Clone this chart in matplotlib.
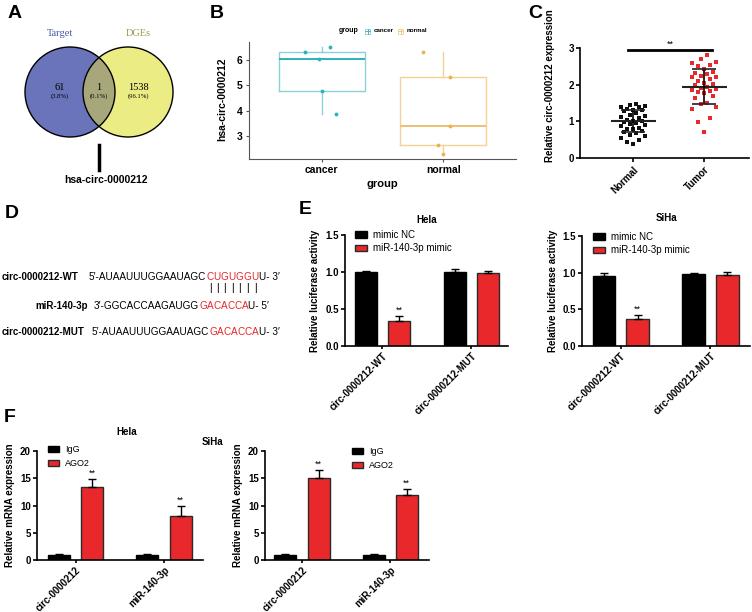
import matplotlib
matplotlib.use("Agg")
import matplotlib.pyplot as plot
from matplotlib.patches import Circle, Rectangle
import numpy

plot.rcParams['font.family'] = ['Liberation Sans', 'DejaVu Sans']
plot.rcParams['font.weight'] = 'bold'
plot.rcParams['axes.labelweight'] = 'bold'
plot.rcParams['axes.titleweight'] = 'bold'

# ---- data ----
venn_names = ["Target", "DGEs"]
venn_counts = ["61", "1", "1538"]
venn_percents = ["(3.8%)", "(0.1%)", "(96.1%)"]
venn_shared = "hsa-circ-0000212"

box_groups = ["cancer", "normal"]
cancer_values = [6.32, 6.52, 6.04, 4.78, 3.87]
normal_values = [6.32, 5.33, 3.41, 2.64, 2.29]

scatter_groups = ["Normal", "Tumor"]
normal_expr = [1.48, 1.45, 1.43, 1.40, 1.38, 1.35, 1.32, 1.30, 1.27, 1.22, 1.18, 1.15,
               1.12, 1.08, 1.05, 1.02, 1.00, 0.98, 0.95, 0.92, 0.90, 0.86, 0.83, 0.80,
               0.78, 0.75, 0.72, 0.68, 0.64, 0.60, 0.55, 0.48, 0.44, 0.38]
tumor_expr = [2.80, 2.70, 2.62, 2.58, 2.55, 2.52, 2.42, 2.35, 2.32, 2.28, 2.25, 2.22,
              2.20, 2.15, 2.10, 2.05, 2.02, 1.98, 1.95, 1.92, 1.88, 1.85, 1.83, 1.80,
              1.78, 1.70, 1.65, 1.50, 1.48, 1.40, 1.33, 1.08, 0.98, 0.72]
scatter_mean = [1.00, 1.95]
scatter_sd = [0.30, 0.48]

seq_labels = ["circ-0000212-WT", "miR-140-3p", "circ-0000212-MUT"]
seq_left = ["5\u2032-AUAAUUUGGAAUAGC", "3\u2032-GGCACCAAGAUGG", "5\u2032-AUAAUUUGGAAUAGC"]
seq_site = ["CUGUGGU", "GACACCA", "GACACCA"]
seq_right = ["U- 3\u2032", "U- 5\u2032", "U- 3\u2032"]

luc_groups = ["circ-0000212-WT", "circ-0000212-MUT"]
luc_series = ["mimic NC", "miR-140-3p mimic"]
hela_nc = [1.00, 1.00]
hela_nc_err = [0.02, 0.04]
hela_mimic = [0.34, 0.98]
hela_mimic_err = [0.07, 0.04]
siha_nc = [0.96, 0.98]
siha_nc_err = [0.04, 0.02]
siha_mimic = [0.37, 0.97]
siha_mimic_err = [0.05, 0.04]

rip_groups = ["circ-0000212", "miR-140-3p"]
rip_series = ["IgG", "AGO2"]
hela_igg = [1.0, 1.0]
hela_igg_err = [0.08, 0.08]
hela_ago2 = [13.4, 8.0]
hela_ago2_err = [1.5, 1.9]
siha_igg = [1.0, 1.0]
siha_igg_err = [0.08, 0.08]
siha_ago2 = [15.0, 11.9]
siha_ago2_err = [1.6, 1.1]

RED = '#E8282B'
W, H = 752, 612
fig = plot.figure(figsize=(W / 100, H / 100), dpi=100)


def px_axes(l, t, r, b):
    return fig.add_axes([l / W, 1 - b / H, (r - l) / W, (b - t) / H])


def prism_style(ax):
    for s in ['top', 'right']:
        ax.spines[s].set_visible(False)
    for s in ['left', 'bottom']:
        ax.spines[s].set_linewidth(1.2)
    ax.tick_params(width=1.2, length=3, labelsize=7, pad=1.5)


# overlay in pixel coordinates for free text
ov = fig.add_axes([0, 0, 1, 1], zorder=5)
ov.set_xlim(0, W)
ov.set_ylim(H, 0)
ov.axis('off')

for letter, x, y in [("A", 15, 14), ("B", 217, 13), ("C", 535, 14),
                     ("D", 12, 213), ("E", 305, 210), ("F", 10, 417)]:
    ov.text(x, y, letter, fontsize=14, fontweight='bold', ha='center', va='center')

# ---- A: venn ----
left_c = Circle((70, 92), 45, fc='#6A74BA', ec='none')
right_c = Circle((128, 92), 45, fc='#ECEC84', ec='none')
ov.add_patch(left_c)
ov.add_patch(right_c)
lens = Circle((128, 92), 45, fc='#A8A77C', ec='none')
ov.add_patch(lens)
lens.set_clip_path(left_c)
ov.add_patch(Circle((70, 92), 45, fc='none', ec='black', lw=1))
ov.add_patch(Circle((128, 92), 45, fc='none', ec='black', lw=1))
serif = ['Liberation Serif', 'DejaVu Serif']
ov.text(60, 34, venn_names[0], color='#4656A8', fontsize=7.5, family=serif, fontweight='normal', ha='center', va='center')
ov.text(138, 34, venn_names[1], color='#9A9A4A', fontsize=7.5, family=serif, fontweight='normal', ha='center', va='center')
for x, cnt, pct in zip([60, 99, 138], venn_counts, venn_percents):
    ov.text(x, 88, cnt, fontsize=7.5, family=serif, fontweight='normal', ha='center', va='center')
    ov.text(x, 96, pct, fontsize=4.8, family=serif, fontweight='normal', ha='center', va='center')
ov.plot([99, 99], [145, 170], color='black', lw=2.5)
ov.text(106, 180, venn_shared, fontsize=7.5, ha='center', va='center')

# ---- B: boxplot ----
axB = px_axes(249, 42, 516, 159)
box_cols = [('#8BD2D8', '#2FB0BA', '#27B2BC'), ('#F2D394', '#EEC070', '#E9B449')]
bp = axB.boxplot([cancer_values, normal_values], positions=[1, 2], widths=0.71,
                 showcaps=False, showfliers=False)
for i, (edge, med, pt) in enumerate(box_cols):
    bp['boxes'][i].set(color=edge, linewidth=1)
    bp['whiskers'][2 * i].set(color=edge, linewidth=1)
    bp['whiskers'][2 * i + 1].set(color=edge, linewidth=1)
    bp['medians'][i].set(color=med, linewidth=1.4)
box_jitter = [[-0.14, 0.07, -0.02, 0.0, 0.12], [-0.17, 0.06, 0.06, -0.04, 0.0]]
for i, vals in enumerate([cancer_values, normal_values]):
    axB.scatter(i + 1 + numpy.array(box_jitter[i]), vals, s=3, color=box_cols[i][2], zorder=3)
axB.set_xlim(0.4, 2.6)
axB.set_ylim(2.09, 6.71)
axB.set_yticks([3, 4, 5, 6])
axB.set_xticks([1, 2])
axB.set_xticklabels(box_groups, fontsize=8)
for s in ['top', 'right']:
    axB.spines[s].set_visible(False)
for s in ['left', 'bottom']:
    axB.spines[s].set_color('#555555')
    axB.spines[s].set_linewidth(0.8)
axB.tick_params(colors='#555555', labelcolor='black', length=2.5, width=0.8, labelsize=7.5, pad=2)
axB.set_xlabel("group", fontsize=8, labelpad=3)
axB.set_ylabel("hsa-circ-0000212", fontsize=7.5)
axB.yaxis.set_label_coords(-0.082, 0.51)
ov.text(349, 31, "group", fontsize=5, ha='center', va='center')
for x0, name, (edge, med, pt) in zip([365, 398], box_groups, box_cols):
    ov.add_patch(Rectangle((x0, 28.5), 5, 5, fc='white', ec=edge, lw=0.6))
    ov.plot([x0, x0 + 5], [31, 31], color=med, lw=0.6)
    ov.plot([x0 + 2.5, x0 + 2.5], [28.5, 33.5], color=med, lw=0.6)
    ov.text(x0 + 9, 31, name, fontsize=4.5, ha='left', va='center')

# ---- C: scatter dot plot ----
axC = px_axes(580, 48, 749, 158)


def spread(values, width):
    order = numpy.argsort(values)
    pattern = numpy.array([0, -1, 1, -2, 2, -0.5, 0.5, -1.5, 1.5]) * width / 2
    offs = numpy.empty(len(values))
    offs[order] = numpy.resize(pattern, len(values))
    return offs


for i, (vals, col) in enumerate([(normal_expr, '#111111'), (tumor_expr, RED)]):
    vals = numpy.array(vals)
    axC.scatter(i + spread(vals, 0.17), vals, s=6, marker='s', color=col, lw=0, zorder=2)
    m, sd = scatter_mean[i], scatter_sd[i]
    axC.hlines(m, i - 0.32, i + 0.32, color='#222222', lw=1.5, zorder=3)
    axC.vlines(i, m - sd, m + sd, color='black', lw=1.2, zorder=3)
    axC.hlines([m - sd, m + sd], i - 0.17, i + 0.17, color='#222222', lw=1.2, zorder=3)
axC.plot([-0.08, 1.11], [2.95, 2.95], color='black', lw=2, clip_on=False)
axC.text(0.52, 2.97, "**", fontsize=6.5, fontweight='normal', ha='center', va='bottom')
axC.set_xlim(-0.75, 1.63)
axC.set_ylim(0, 3)
axC.set_yticks([0, 1, 2, 3])
axC.set_xticks([0, 1])
axC.set_xticklabels(scatter_groups, rotation=45, ha='right', rotation_mode='anchor', fontsize=7.5)
prism_style(axC)
axC.set_ylabel("Relative circ-0000212 expression", fontsize=7)
axC.yaxis.set_label_coords(-0.148, 0.655)

# ---- D: sequences ----
seq_rows = [(2, 89, 277), (35, 94, 306), (2, 92, 332)]
wt_letters = []
for k, (lx, sx, y) in enumerate(seq_rows):
    ov.text(lx, y, seq_labels[k], fontsize=7, ha='left', va='center')
    prev = ov.text(sx, y, seq_left[k], fontsize=7.2, fontweight='normal', ha='left', va='center')
    for ch in seq_site[k]:
        prev = ov.annotate(ch, xy=(1, 0), xycoords=prev, ha='left', va='bottom',
                           fontsize=7.2, fontweight='normal', color=RED)
        if k == 0:
            wt_letters.append(prev)
    ov.annotate(seq_right[k], xy=(1, 0), xycoords=prev, ha='left', va='bottom',
                fontsize=7.2, fontweight='normal')
for lt in wt_letters:
    ov.annotate("|", xy=(0.5, 0), xycoords=lt, xytext=(0, -1), textcoords='offset points',
                ha='center', va='top', fontsize=7.5, fontweight='normal')


# ---- E / F: bar panels ----
def bar_panel(box, series, a, a_err, b, b_err):
    ax = px_axes(*box)
    x = numpy.arange(len(a))
    ax.bar(x - 0.188, a, 0.25, color='black', edgecolor='black', linewidth=1, label=series[0], zorder=2)
    ax.bar(x + 0.188, b, 0.25, color=RED, edgecolor='#2a2a2a', linewidth=1, label=series[1], zorder=2)
    ax.errorbar(x - 0.188, a, yerr=[numpy.zeros(len(a)), a_err], fmt='none', ecolor='black',
                elinewidth=1, capsize=3, capthick=1, zorder=3)
    ax.errorbar(x + 0.188, b, yerr=[numpy.zeros(len(b)), b_err], fmt='none', ecolor='black',
                elinewidth=1, capsize=3, capthick=1, zorder=3)
    return ax, x


def finish(ax, x, cats, xlims, ymax, yticks, fmt, ylabel, label_x, box, legend_xy, spacing, xfs, lfs):
    l, t, r, bt = box
    ax.set_xlim(*xlims)
    ax.set_ylim(0, ymax)
    ax.set_yticks(yticks)
    ax.set_yticklabels([fmt.format(v) for v in yticks])
    ax.set_xticks(x)
    ax.set_xticklabels(cats, rotation=45, ha='right', rotation_mode='anchor', fontsize=xfs)
    prism_style(ax)
    ax.tick_params(axis='x', pad=1, length=2.5)
    ax.set_ylabel(ylabel, fontsize=7)
    ax.yaxis.set_label_coords((label_x - l) / (r - l), 0.5)
    hx, hy = legend_xy
    ax.legend(loc='upper left', bbox_to_anchor=((hx - l) / (r - l), (bt - hy) / (bt - t)),
              frameon=False, borderpad=0, borderaxespad=0, handlelength=1.25, handleheight=0.65,
              handletextpad=0.6, labelspacing=spacing, prop={'size': lfs, 'weight': 'normal'})


def stars(ax, x, b, b_err, lift, idx):
    for i in idx:
        ax.text(x[i] + 0.188, b[i] + b_err[i] + lift, "**", ha='center', va='bottom',
                fontsize=6.5, fontweight='normal')


luc_panels = [((345, 235, 508, 346), hela_nc, hela_nc_err, hela_mimic, hela_mimic_err, 320,
               (355, 230), (-0.42, 1.41), "Hela", (427, 220)),
              ((582, 236, 750, 346), siha_nc, siha_nc_err, siha_mimic, siha_mimic_err, 558,
               (593, 232), (-0.43, 1.44), "SiHa", (667, 218))]
for box, a, ae, b, be, lab_x, leg, xl, title, tpos in luc_panels:
    ax, x = bar_panel(box, luc_series, a, ae, b, be)
    stars(ax, x, b, be, 0.015, [0])
    finish(ax, x, luc_groups, xl, 1.5, [0, 0.5, 1.0, 1.5], "{:.1f}", "Relative luciferase activity",
           lab_x, box, leg, 0.35, 7, 7)
    ov.text(tpos[0], tpos[1], title, fontsize=7, ha='center', va='center')

rip_panels = [((37, 451, 203, 560), hela_igg, hela_igg_err, hela_ago2, hela_ago2_err, 15,
               (48, 445), (-0.435, 1.44), "Hela", (127, 432)),
              ((265, 451, 429, 560), siha_igg, siha_igg_err, siha_ago2, siha_ago2_err, 243,
               (352, 447), (-0.42, 1.44), "SiHa", (213, 442))]
for box, a, ae, b, be, lab_x, leg, xl, title, tpos in rip_panels:
    ax, x = bar_panel(box, rip_series, a, ae, b, be)
    stars(ax, x, b, be, 0.2, [0, 1])
    finish(ax, x, rip_groups, xl, 20, [0, 5, 10, 15, 20], "{:d}", "Relative mRNA expression",
           lab_x, box, leg, 0.6, 6, 6.5)
    ov.text(tpos[0], tpos[1], title, fontsize=7, ha='center', va='center')

plot.savefig("out.png", dpi=100)
